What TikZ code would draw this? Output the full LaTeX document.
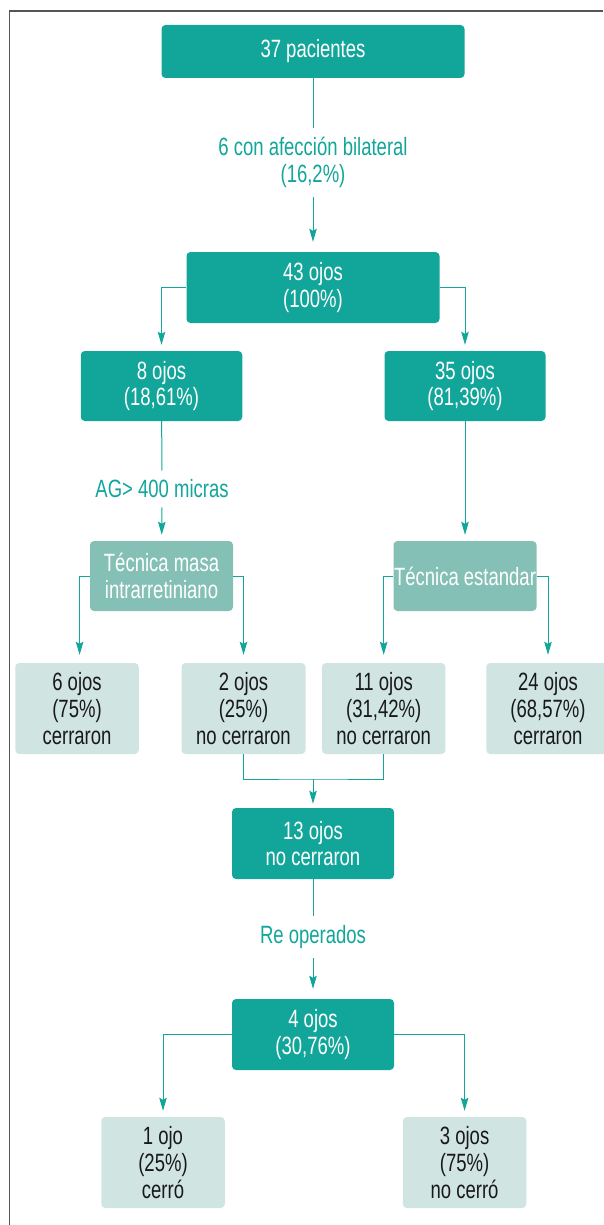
\documentclass[tikz,border=0pt]{standalone}
\usepackage{fontspec}
\setmainfont{Liberation Sans}[FakeStretch=0.74]
\usetikzlibrary{arrows.meta}

\definecolor{tealdark}{HTML}{12A69A}
\definecolor{tealmid}{HTML}{84C0B6}
\definecolor{teallight}{HTML}{D0E4E2}
\definecolor{framegray}{HTML}{555555}

\tikzset{
  box/.style={rectangle, rounded corners=4pt, align=center, inner sep=0pt,
    font=\fontsize{25}{26.7}\selectfont},
  darkbox/.style={box, fill=tealdark, text=white},
  midbox/.style={box, fill=tealmid, text=white},
  lightbox/.style={box, fill=teallight, text=black!90},
  steplabel/.style={align=center, text=tealdark, inner xsep=0pt, inner ysep=9pt,
    font=\fontsize{25}{26.7}\selectfont},
  link/.style={draw=tealdark, line width=1pt},
  flow/.style={link, -{Stealth[width=7.5pt, length=13pt, inset=2pt]}, shorten >=6pt},
}

\begin{document}
\begin{tikzpicture}[x=1pt, y=-1pt]
\useasboundingbox (0,0) rectangle (603,1225);
\draw[framegray, line width=1.2pt] (9.6,1225) -- (9.6,11) -- (603,11);

\node[darkbox, minimum width=303pt, minimum height=53pt] (pac) at (313,51.5) {37 pacientes};
\node[steplabel] (bilat) at (313,162.5) {6 con afección bilateral\\(16,2\%)};
\node[darkbox, minimum width=253pt, minimum height=71pt] (o43) at (313,287.5) {43 ojos\\(100\%)};

\node[darkbox, minimum width=161.5pt, minimum height=70pt] (o8) at (161.5,386) {8 ojos\\(18,61\%)};
\node[darkbox, minimum width=161pt, minimum height=70pt] (o35) at (465,386) {35 ojos\\(81,39\%)};

\node[steplabel] (ag) at (162,489) {AG> 400 micras};

\node[midbox, minimum width=143pt, minimum height=70pt] (tmasa) at (161.5,576) {Técnica masa\\intrarretiniano};
\node[midbox, minimum width=143pt, minimum height=70pt] (testd) at (465,576) {Técnica estandar};

\node[lightbox, minimum width=123.5pt, minimum height=91pt] (o6) at (77,708.5) {6 ojos\\(75\%)\\cerraron};
\node[lightbox, minimum width=124pt, minimum height=91pt] (o2) at (243.5,708.5) {2 ojos\\(25\%)\\no cerraron};
\node[lightbox, minimum width=123.5pt, minimum height=91pt] (o11) at (383.7,708.5) {11 ojos\\(31,42\%)\\no cerraron};
\node[lightbox, minimum width=123.5pt, minimum height=91pt] (o24) at (548,708.5) {24 ojos\\(68,57\%)\\cerraron};

\coordinate (merge) at (313,779);
\node[darkbox, minimum width=162pt, minimum height=71pt] (o13) at (313,843.5) {13 ojos\\no cerraron};
\node[steplabel] (reop) at (313,937) {Re operados};
\node[darkbox, minimum width=162pt, minimum height=71pt] (o4) at (313,1034.5) {4 ojos\\(30,76\%)};

\node[lightbox, minimum width=123.5pt, minimum height=91pt] (o1) at (163,1162.5) {1 ojo\\(25\%)\\cerró};
\node[lightbox, minimum width=123.5pt, minimum height=91pt] (o3) at (464.6,1162.5) {3 ojos\\(75\%)\\no cerró};

\draw[link] (pac) -- (bilat);
\draw[flow, shorten >=10pt] (bilat) -- (o43);
\draw[flow] (o43.west) -| (o8.north);
\draw[flow] (o43.east) -| (o35.north);
\draw[link] (o8) -- (ag);
\draw[flow] (ag) -- (tmasa);
\draw[flow] (o35) -- (testd);
\draw[flow, shorten >=8pt] (tmasa.west) -| ([xshift=2.6pt]o6.north);
\draw[flow, shorten >=8pt] (tmasa.east) -| (o2.north);
\draw[flow, shorten >=8pt] (testd.west) -| (o11.north);
\draw[flow, shorten >=8pt] (testd.east) -| (o24.north);
\draw[link] (o2.south) |- (merge) -| (o11.south);
\draw[flow, shorten >=4pt] (merge) -- (o13);
\draw[link] (o13) -- (reop);
\draw[flow, shorten >=10pt] (reop) -- (o4);
\draw[flow] (o4.west) -| (o1.north);
\draw[flow] (o4.east) -| (o3.north);
\end{tikzpicture}
\end{document}
